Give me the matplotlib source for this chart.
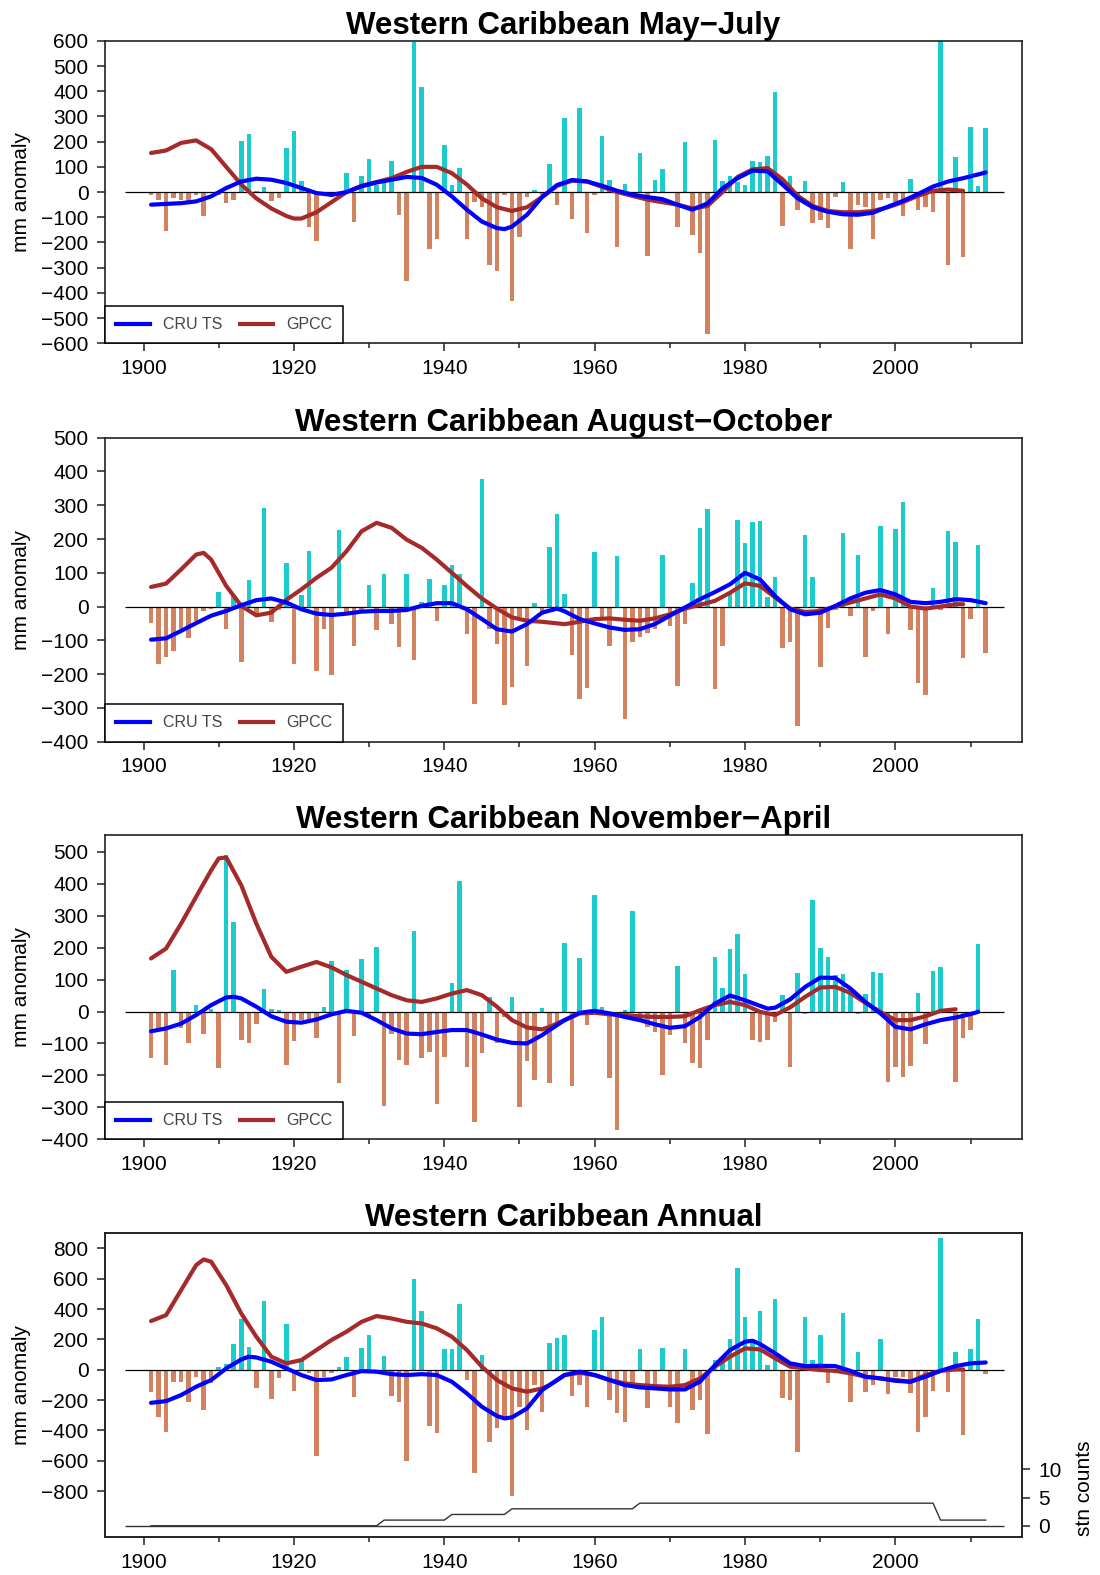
import numpy as np
import matplotlib
matplotlib.use('Agg')
from matplotlib import pyplot as plt
from matplotlib.lines import Line2D

plt.rcParams['font.family'] = ['Liberation Sans', 'DejaVu Sans']

# ════════════════════════════════════════════════════════════════════════════
#  DATA
# ════════════════════════════════════════════════════════════════════════════
YEARS = np.arange(1901, 2013)

# yearly anomaly bars (mm), 1901 onwards
MJJ_BARS = [
    -10, -30, -155, -25, -30, -40, -10, -95, -5, -10,
    -45, -30, 204, 231, 5, 20, -35, -25, 173, 244,
    45, -137, -193, -10, -20, -25, 76, -117, 62, 133,
    30, 40, 125, -90, -353, 594, 418, -227, -186, 186,
    30, 96, -187, -40, -60, -290, -313, -10, -433, -179,
    -20, 10, -10, 112, -50, 292, -108, 335, -163, -10,
    224, 49, -219, 32, -10, 153, -252, 46, 92, -5,
    -139, 198, -170, -243, -562, 207, 42, 62, 38, 30,
    122, 120, 142, 397, -133, 62, -70, 42, -121, -110,
    -141, -20, 38, -227, -50, -60, -187, -30, -25, -40,
    -93, 52, -70, -60, -81, 620, -290, 138, -256, 259,
    25, 256]

ASO_BARS = [
    -49, -170, -150, -133, -67, -94, -42, -13, -8, 43,
    -65, 30, -165, 78, -23, 291, -45, -10, 130, -170,
    35, 164, -190, -65, -202, 226, -18, -118, -20, 63,
    -70, 95, -52, -119, 95, -158, 14, 81, -42, 64,
    123, 95, -80, -288, 378, -67, -111, -291, -237, -30,
    -175, 10, -25, 176, 274, 36, -143, -273, -242, 161,
    -30, -116, 149, -332, -104, -89, -77, -67, 154, -57,
    -236, -52, 69, 233, 289, -244, -116, 40, 257, 189,
    250, 254, 27, 88, -124, -106, -354, 213, 88, -180,
    -64, -10, 218, -29, 152, -148, -13, 238, -82, 230,
    311, -69, -227, -261, 54, -10, 225, 191, -151, -37,
    181, -136]

NDJFMA_BARS = [
    -147, -58, -166, 131, -53, -100, 20, -71, 9, -178,
    489, 280, -90, -100, -38, 70, 7, 6, -168, -92,
    -27, -32, -82, 13, 158, -223, 131, -77, 163, -20,
    202, -296, -69, -152, -168, 251, -147, -128, -290, -142,
    90, 409, -175, -345, -129, 46, -100, -17, 46, -300,
    -154, -215, 11, -223, -40, 213, -234, 168, -43, 364,
    13, -208, -371, 6, 314, -22, -48, -64, -200, -74,
    143, -98, -160, -176, -90, 171, 72, 195, 244, 116,
    -88, -95, -90, -32, 53, -175, 121, -8, 350, 199,
    171, 114, 116, 62, -8, 56, 124, 119, -220, -175,
    -206, -171, 58, -102, 127, 140, -6, -220, -84, -58,
    211]

ANN_BARS = [
    -149, -314, -409, -80, -79, -211, -46, -266, -86, 20,
    37, 167, 334, 147, -123, 453, -196, -57, 301, -138,
    68, -24, -569, -46, -20, 20, 81, -182, 141, 229,
    -20, 92, -174, -211, -600, 598, 387, -369, -420, 136,
    136, 433, -68, -684, 95, -475, -382, -332, -833, -244,
    -398, -101, -279, 178, 207, 229, -174, -101, -248, 262,
    349, -200, -288, -343, -112, 136, -255, -112, 141, -244,
    -349, 134, -266, -200, -426, 64, 68, 202, 672, 349,
    196, 387, 31, 466, -189, -200, -545, 345, 64, 229,
    -86, -24, 376, -213, 116, -145, -101, 202, -160, -46,
    -46, -156, -409, -310, -138, 870, -145, 114, -431, 134,
    332, -31]

# smoothed curves (CRU TS = blue, GPCC = brown)
MJJ_CRU_X = [1901, 1905, 1907, 1909, 1911, 1913, 1915, 1917, 1919, 1921, 1923, 1925,
             1927, 1929, 1931, 1933, 1935, 1937, 1939, 1941, 1943, 1945, 1947, 1948,
             1949, 1951, 1953, 1955, 1957, 1959, 1961, 1963, 1965, 1967, 1969, 1971,
             1973, 1975, 1977, 1979, 1981, 1983, 1985, 1987, 1989, 1991, 1993, 1995,
             1997, 1999, 2001, 2003, 2005, 2007, 2009, 2011, 2012]
MJJ_CRU_Y = [-50, -44, -37, -17, 16, 42, 53, 49, 36, 16, -4, -11,
             0, 23, 38, 49, 60, 56, 29, -17, -70, -117, -143, -147,
             -137, -90, -20, 28, 48, 42, 25, 5, -10, -20, -28, -50,
             -70, -45, 15, 55, 85, 82, 29, -25, -60, -78, -88, -90,
             -82, -58, -35, -8, 22, 42, 55, 70, 78]
MJJ_GPCC_X = [1901, 1903, 1905, 1907, 1909, 1911, 1913, 1915, 1917, 1919, 1920, 1921,
              1923, 1925, 1927, 1929, 1931, 1933, 1935, 1937, 1939, 1941, 1943, 1945,
              1947, 1949, 1951, 1953, 1955, 1957, 1959, 1961, 1963, 1965, 1967, 1969,
              1971, 1973, 1975, 1977, 1979, 1981, 1983, 1985, 1987, 1989, 1991, 1993,
              1995, 1997, 1999, 2001, 2003, 2005, 2007, 2009]
MJJ_GPCC_Y = [155, 165, 195, 205, 170, 100, 30, -25, -65, -95, -105, -105,
              -80, -40, 0, 25, 40, 55, 80, 100, 100, 75, 30, -25,
              -60, -75, -60, -20, 25, 45, 42, 20, 0, -15, -30, -40,
              -50, -65, -55, 0, 60, 90, 95, 50, -15, -55, -75, -80,
              -80, -75, -60, -40, -15, 5, 10, 5]

ASO_CRU_X = [1901, 1903, 1905, 1907, 1909, 1911, 1913, 1915, 1917, 1919, 1921, 1923,
             1925, 1927, 1929, 1931, 1933, 1935, 1937, 1939, 1941, 1943, 1945, 1947,
             1949, 1951, 1953, 1955, 1956, 1958, 1960, 1962, 1964, 1966, 1968, 1970,
             1972, 1974, 1976, 1978, 1980, 1982, 1984, 1986, 1988, 1990, 1992, 1994,
             1996, 1998, 2000, 2002, 2004, 2006, 2008, 2010, 2012]
ASO_CRU_Y = [-98, -94, -72, -49, -27, -13, 4, 19, 24, 12, -8, -21,
             -25, -21, -15, -13, -13, -10, 2, 10, 10, -8, -37, -67,
             -74, -52, -18, -6, -14, -37, -50, -62, -69, -67, -52, -27,
             -3, 22, 43, 66, 100, 80, 31, -8, -23, -18, 2, 24,
             41, 49, 36, 14, 10, 14, 22, 19, 10]
ASO_GPCC_X = [1901, 1903, 1905, 1907, 1908, 1909, 1911, 1913, 1915, 1917, 1919, 1921,
              1923, 1925, 1927, 1929, 1931, 1933, 1935, 1937, 1939, 1941, 1943, 1945,
              1947, 1949, 1951, 1953, 1956, 1958, 1960, 1962, 1964, 1966, 1968, 1970,
              1972, 1974, 1976, 1978, 1980, 1982, 1984, 1986, 1988, 1990, 1992, 1994,
              1996, 1998, 2000, 2002, 2004, 2006, 2008, 2009]
ASO_GPCC_Y = [58, 68, 110, 154, 159, 139, 61, 2, -26, -18, 20, 51,
              85, 115, 164, 223, 248, 233, 198, 174, 139, 100, 61, 24,
              -6, -32, -42, -45, -52, -45, -37, -35, -39, -42, -35, -23,
              -6, 5, 17, 41, 69, 61, 27, -6, -16, -13, 0, 12,
              24, 36, 24, 0, -6, 0, 7, 7]

NDJFMA_CRU_X = [1901, 1903, 1905, 1907, 1909, 1911, 1912, 1913, 1915, 1917, 1919, 1921,
                1923, 1925, 1927, 1929, 1931, 1933, 1935, 1937, 1939, 1941, 1943, 1945,
                1947, 1949, 1951, 1953, 1954, 1956, 1958, 1960, 1962, 1964, 1966, 1968,
                1970, 1972, 1974, 1976, 1978, 1980, 1983, 1984, 1986, 1988, 1990, 1992,
                1994, 1996, 1998, 2000, 2002, 2004, 2006, 2008, 2010, 2011]
NDJFMA_CRU_Y = [-62, -53, -38, -11, 20, 44, 46, 41, 15, -15, -32, -35,
                -25, -9, 2, -4, -27, -53, -69, -71, -64, -58, -58, -72,
                -88, -98, -100, -74, -58, -27, -4, 2, -6, -17, -27, -40,
                -51, -46, -17, 25, 50, 35, 9, 12, 38, 77, 106, 105,
                72, 30, -6, -48, -56, -40, -27, -19, -8, -1]
NDJFMA_GPCC_X = [1901, 1903, 1905, 1907, 1909, 1910, 1911, 1913, 1915, 1917, 1919, 1921,
                 1923, 1925, 1927, 1929, 1931, 1933, 1935, 1937, 1939, 1941, 1943, 1945,
                 1947, 1949, 1951, 1953, 1954, 1956, 1958, 1960, 1962, 1964, 1966, 1968,
                 1970, 1972, 1974, 1976, 1978, 1980, 1982, 1984, 1986, 1988, 1990, 1992,
                 1994, 1996, 1998, 2000, 2002, 2004, 2006, 2008]
NDJFMA_GPCC_Y = [166, 197, 275, 359, 442, 479, 482, 395, 275, 171, 124, 140,
                 155, 138, 114, 93, 72, 51, 35, 30, 41, 56, 67, 51,
                 15, -27, -50, -56, -48, -27, -6, -4, -9, -11, -15, -17,
                 -17, -15, 4, 20, 30, 20, -1, -11, 13, 46, 75, 77,
                 58, 27, -1, -27, -27, -15, 2, 7]

ANN_CRU_X = [1901, 1903, 1905, 1907, 1909, 1911, 1913, 1914, 1915, 1917, 1919, 1921,
             1923, 1925, 1927, 1929, 1931, 1933, 1935, 1937, 1939, 1941, 1943, 1945,
             1947, 1948, 1949, 1951, 1953, 1954, 1956, 1958, 1960, 1962, 1964, 1966,
             1968, 1970, 1972, 1974, 1976, 1978, 1980, 1981, 1982, 1984, 1986, 1988,
             1990, 1992, 1994, 1996, 1998, 2000, 2002, 2004, 2006, 2008, 2010, 2012]
ANN_CRU_Y = [-218, -207, -167, -112, -68, 9, 68, 86, 81, 53, 9, -35,
             -68, -64, -35, -9, -13, -29, -35, -29, -35, -79, -156, -244,
             -305, -321, -314, -255, -134, -101, -35, -13, -35, -68, -101, -116,
             -123, -130, -130, -79, 31, 130, 185, 191, 169, 108, 42, 24,
             26, 24, -7, -46, -57, -73, -79, -46, -7, 24, 42, 48]
ANN_GPCC_X = [1901, 1903, 1905, 1907, 1908, 1909, 1911, 1913, 1915, 1917, 1919, 1921,
              1923, 1925, 1927, 1929, 1931, 1933, 1935, 1937, 1939, 1941, 1943, 1945,
              1947, 1949, 1951, 1953, 1954, 1956, 1958, 1960, 1962, 1964, 1966, 1968,
              1970, 1972, 1974, 1976, 1978, 1980, 1982, 1984, 1986, 1988, 1990, 1992,
              1994, 1996, 1998, 2000, 2002, 2004, 2006, 2008, 2009]
ANN_GPCC_Y = [321, 360, 525, 690, 727, 712, 558, 371, 218, 86, 42, 64,
              130, 196, 251, 316, 354, 338, 316, 305, 273, 218, 130, 20,
              -68, -123, -145, -123, -101, -35, -20, -35, -68, -90, -101, -108,
              -112, -101, -57, 20, 86, 141, 134, 75, 20, 9, -2, -7,
              -24, -46, -57, -68, -79, -35, -7, 2, 2]

# station counts (annual panel, right axis)
STN_YEARS = [1901, 1931, 1932, 1940, 1941, 1948, 1949, 1965, 1966, 2005, 2006, 2012]
STN_COUNTS = [0, 0, 1, 1, 2, 2, 3, 3, 4, 4, 1, 1]

TITLES = ['Western Caribbean May\u2212July',
          'Western Caribbean August\u2212October',
          'Western Caribbean November\u2212April',
          'Western Caribbean Annual']

# ════════════════════════════════════════════════════════════════════════════
#  STYLE
# ════════════════════════════════════════════════════════════════════════════
CYAN       = '#1ccccc'
BAR_BROWN  = '#d2825f'
LINE_BROWN = '#a52a2a'
LINE_BLUE  = '#0000ff'
FS   = 15
LW   = 3.0
XLIM = (1894.9, 2016.8)

AX_LEFT, AX_WIDTH = 0.0956, 0.8333
# (bottom, height) in figure fractions for the four panels
AX_ROWS = [(0.7820, 0.1921), (0.5291, 0.1930), (0.2766, 0.1932), (0.0239, 0.1930)]
YLIMS   = [(-600, 600), (-400, 500), (-400, 552), (-1105, 899)]
YTICKS  = [np.arange(-600, 601, 100), np.arange(-400, 501, 100),
           np.arange(-400, 501, 100), np.arange(-800, 801, 200)]


def style_axes(ax, ylim, yticks):
    ax.set_xlim(*XLIM)
    ax.set_ylim(*ylim)
    ax.set_xticks(np.arange(1900, 2001, 20))
    ax.set_xticks(np.arange(1910, 2011, 20), minor=True)
    ax.set_yticks(yticks)
    ax.tick_params(axis='x', which='major', direction='out', length=6, width=1.1,
                   labelsize=FS, pad=5, color='#222')
    ax.tick_params(axis='x', which='minor', direction='out', length=3.5, width=1.1,
                   color='#222')
    ax.tick_params(axis='y', which='major', direction='out', length=6, width=1.1,
                   labelsize=FS, pad=6, color='#222')
    for sp in ax.spines.values():
        sp.set_linewidth(1.2)
        sp.set_color('#222')
    ax.set_ylabel('mm anomaly', fontsize=FS)
    ax.yaxis.set_label_coords(-0.081, 0.5)


def draw_panel(ax, title, bars, cru_x, cru_y, gpcc_x, gpcc_y, legend=True):
    bars = np.asarray(bars, dtype=float)
    yrs = YEARS[:len(bars)]
    cols = np.where(bars >= 0, CYAN, BAR_BROWN)
    ax.bar(yrs, bars, width=0.6, color=cols, linewidth=0, zorder=2)
    ax.hlines(0, 1897.5, 2014.5, color='black', lw=0.9, zorder=3)
    ax.plot(gpcc_x, gpcc_y, color=LINE_BROWN, lw=LW, zorder=4,
            solid_capstyle='round', solid_joinstyle='round')
    ax.plot(cru_x, cru_y, color=LINE_BLUE, lw=LW, zorder=5,
            solid_capstyle='round', solid_joinstyle='round')
    ax.set_title(title, fontsize=22.5, fontweight='bold', pad=5)

    if legend:
        handles = [Line2D([], [], color=LINE_BLUE, lw=LW, label='CRU TS'),
                   Line2D([], [], color=LINE_BROWN, lw=LW, label='GPCC')]
        leg = ax.legend(handles=handles, loc='lower left', bbox_to_anchor=(0, 0),
                        borderaxespad=0, ncol=2, fontsize=11.5, frameon=True,
                        fancybox=False, edgecolor='black', framealpha=1,
                        handlelength=2.1, handletextpad=0.8, columnspacing=1.1,
                        borderpad=0.7)
        leg.get_frame().set_linewidth(1.1)
        leg.set_zorder(10)
        for t in leg.get_texts():
            t.set_color('#444444')


fig = plt.figure(figsize=(11, 15.75), dpi=100)

panels = [
    (MJJ_BARS, MJJ_CRU_X, MJJ_CRU_Y, MJJ_GPCC_X, MJJ_GPCC_Y),
    (ASO_BARS, ASO_CRU_X, ASO_CRU_Y, ASO_GPCC_X, ASO_GPCC_Y),
    (NDJFMA_BARS, NDJFMA_CRU_X, NDJFMA_CRU_Y, NDJFMA_GPCC_X, NDJFMA_GPCC_Y),
    (ANN_BARS, ANN_CRU_X, ANN_CRU_Y, ANN_GPCC_X, ANN_GPCC_Y),
]

for i, (bars, cx, cy, gx, gy) in enumerate(panels):
    bottom, height = AX_ROWS[i]
    ax = fig.add_axes([AX_LEFT, bottom, AX_WIDTH, height])
    style_axes(ax, YLIMS[i], YTICKS[i])
    draw_panel(ax, TITLES[i], bars, cx, cy, gx, gy, legend=(i < 3))

    if i == 3:
        # station counts on a secondary right axis
        tw = ax.twinx()
        tw.set_ylim(-2.06, 51.85)
        tw.set_yticks([0, 5, 10])
        tw.hlines(0, 1897.5, 2014.5, color='#333333', lw=1.0)
        tw.plot(STN_YEARS, STN_COUNTS, color='#333333', lw=1.0)
        tw.tick_params(axis='y', direction='out', length=6, width=1.1,
                       labelsize=FS, pad=6, color='#222')
        for sp in tw.spines.values():
            sp.set_linewidth(1.2)
            sp.set_color('#222')
        tw.set_ylabel('stn counts', fontsize=FS, rotation=90)
        tw.yaxis.set_label_coords(1.058, 0.16)

fig.savefig('out.png', dpi=100)
